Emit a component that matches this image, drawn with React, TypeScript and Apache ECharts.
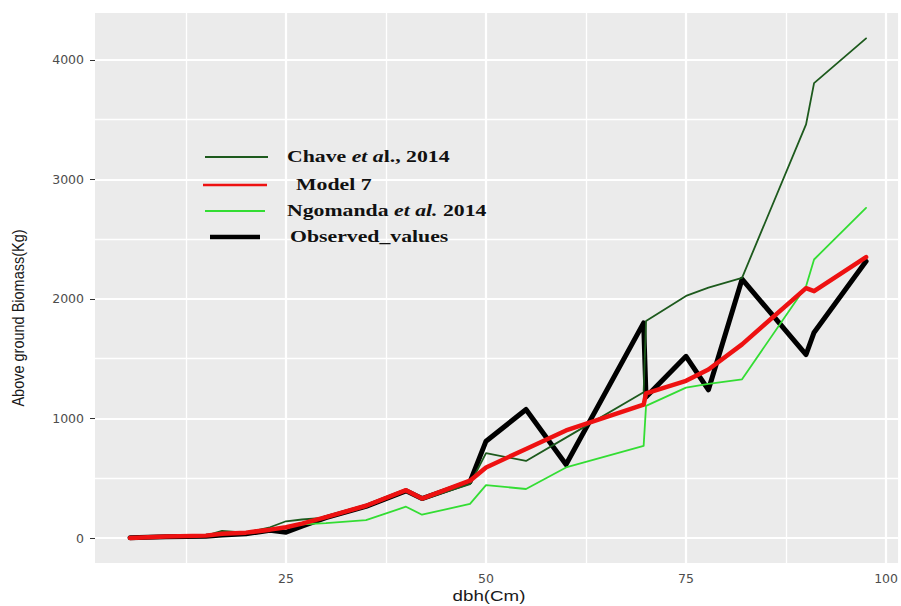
import React, { useEffect, useRef } from "react";
import * as echarts from "echarts";

// dbh (cm) of the sampled trees
const dbh = [5.5, 10, 15, 17, 20, 23, 25, 27, 30, 35, 40, 42, 48, 50, 55, 60, 69.7, 70, 75, 77.8, 82, 90, 91, 97.5];
// Above ground biomass (kg)
const chave2014 = [5, 10, 20, 60, 45, 90, 140, 155, 170, 260, 395, 320, 450, 710, 645, 840, 1220, 1815, 2025, 2095, 2177, 3460, 3805, 4180];
const model7 = [0, 12, 20, 35, 45, 70, 90, 120, 175, 270, 400, 330, 480, 590, 745, 900, 1115, 1210, 1315, 1410, 1620, 2090, 2065, 2350];
const ngomanda2014 = [3, 10, 18, 40, 40, 70, 95, 115, 125, 150, 262, 195, 285, 443, 410, 590, 771, 1105, 1258, 1290, 1328, 2107, 2330, 2762];
const observedValues = [2, 10, 15, 25, 35, 65, 48, 100, 170, 265, 395, 330, 470, 810, 1075, 615, 1800, 1180, 1520, 1240, 2165, 1535, 1720, 2315];

const xTicks = [25, 50, 75, 100];
const yTicks = [0, 1000, 2000, 3000, 4000];
const xMinorGrid = [12.5, 37.5, 62.5, 87.5];
const yMinorGrid = [500, 1500, 2500, 3500];

const seriesNames = ["Chave et al., 2014", "Model 7", "Ngomanda et al. 2014", "Observed_values"];

const pairs = (ys: number[]) => dbh.map((x, i) => [x, ys[i]]);

export default function App() {
  const ref = useRef<HTMLDivElement>(null);
  useEffect(() => {
    document.body.style.margin = "0";
    if (!ref.current) return;
    const chart = echarts.init(ref.current, undefined, { renderer: "svg" });
    const serif = '"Liberation Serif", "Times New Roman", serif';
    const sans = '"Liberation Sans", Arial, sans-serif';
    const legendY = [157, 185, 211, 237];
    const legendColors = ["#1d5a1d", "#ee1111", "#33dd33", "#000000"];
    const legendWidths = [2, 2.5, 2, 4.5];
    const legendX = [[205, 268], [203, 267], [205, 265], [210, 260]];
    const legendTexts = [
      { text: "{n|Chave }{i|et a}{n|l., 2014}", x: 287 },
      { text: "{n|Model 7}", x: 296 },
      { text: "{n|Ngomanda }{i|et al.}{n| 2014}", x: 287 },
      { text: "{n|Observed_values}", x: 290 },
    ];
    const legendGraphics: any[] = [];
    legendY.forEach((y, i) => {
      legendGraphics.push({
        type: "line",
        shape: { x1: legendX[i][0], y1: y, x2: legendX[i][1], y2: y },
        style: { stroke: legendColors[i], lineWidth: legendWidths[i] },
        z: 10,
      });
      legendGraphics.push({
        type: "text",
        x: legendTexts[i].x,
        y: y - 1,
        scaleX: 1.28,
        z: 10,
        style: {
          text: legendTexts[i].text,
          align: "left",
          verticalAlign: "middle",
          rich: {
            n: { fontFamily: serif, fontSize: 17, fontWeight: "bold", fill: "#111" },
            i: { fontFamily: serif, fontSize: 17, fontWeight: "bold", fontStyle: "italic", fill: "#111" },
          },
        },
      });
    });

    const gridLines = {
      silent: true,
      symbol: "none",
      z: 1,
      label: { show: false },
      animation: false,
      data: [
        ...xMinorGrid.map((v) => ({ xAxis: v, lineStyle: { color: "#ffffff", width: 1.3, type: "solid" } })),
        ...yMinorGrid.map((v) => ({ yAxis: v, lineStyle: { color: "#ffffff", width: 1.3, type: "solid" } })),
        ...xTicks.map((v) => ({ xAxis: v, lineStyle: { color: "#ffffff", width: 2.2, type: "solid" } })),
        ...yTicks.map((v) => ({ yAxis: v, lineStyle: { color: "#ffffff", width: 2.2, type: "solid" } })),
      ],
    };

    const line = (name: string, ys: number[], color: string, width: number, z: number) => ({
      name,
      type: "line",
      data: pairs(ys),
      showSymbol: false,
      symbol: "none",
      z,
      lineStyle: { color, width, cap: "round", join: "round" },
    });

    chart.setOption({
      animation: false,
      grid: {
        left: 95,
        right: 0,
        top: 13,
        bottom: 43,
        show: true,
        backgroundColor: "#ebebeb",
        borderWidth: 0,
      },
      xAxis: {
        type: "value",
        min: 1.13,
        max: 101.5,
        axisLine: { show: false },
        splitLine: { show: false },
        axisTick: { show: true, length: 4, lineStyle: { color: "#333" }, customValues: xTicks },
        axisLabel: {
          customValues: xTicks,
          formatter: (v: number) => String(v),
          color: "#4d4d4d",
          fontSize: 12.5,
          fontFamily: '"DejaVu Sans", sans-serif',
          margin: 9,
        },
      },
      yAxis: {
        type: "value",
        min: -209,
        max: 4392,
        axisLine: { show: false },
        splitLine: { show: false },
        axisTick: { show: true, length: 5, lineStyle: { color: "#333" }, customValues: yTicks },
        axisLabel: {
          customValues: yTicks,
          formatter: (v: number) => String(v),
          color: "#4d4d4d",
          fontSize: 12.5,
          fontFamily: '"DejaVu Sans", sans-serif',
          margin: 11,
        },
      },
      series: [
        { type: "line", data: [], markLine: gridLines, z: 1 },
        line(seriesNames[3], observedValues, "#000000", 5, 2),
        line(seriesNames[2], ngomanda2014, "#33dd33", 1.8, 3),
        line(seriesNames[0], chave2014, "#1d5a1d", 1.8, 4),
        line(seriesNames[1], model7, "#ee1111", 4.5, 5),
      ],
      graphic: [
        ...legendGraphics,
        {
          type: "text",
          x: 489,
          y: 596,
          scaleX: 1.25,
          style: { text: "dbh(Cm)", fontFamily: sans, fontSize: 15, fill: "#1a1a1a", align: "center", verticalAlign: "middle" },
        },
        {
          type: "text",
          x: 18,
          y: 318,
          rotation: Math.PI / 2,
          scaleY: 1.15,
          style: { text: "Above ground Biomass(Kg)", fontFamily: sans, fontSize: 14.5, fill: "#1a1a1a", align: "center", verticalAlign: "middle" },
        },
      ],
    });
    return () => chart.dispose();
  }, []);
  return <div ref={ref} style={{ width: 901, height: 606 }} />;
}
